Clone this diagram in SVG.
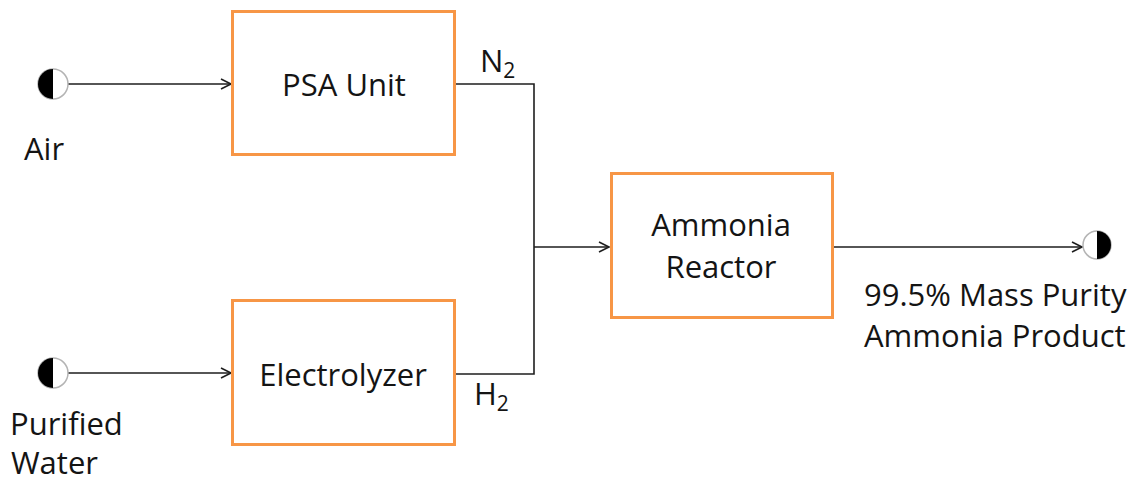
<svg xmlns="http://www.w3.org/2000/svg" width="1135" height="478" viewBox="0 0 1135 478">
<defs>
<style>
.box{fill:#fff;stroke:#F79646;stroke-width:3}
.lbl{font-family:"Open Sans",Lato,"Liberation Sans",sans-serif;font-size:31px;fill:#141414}
.sub{font-size:21px}
.ln{fill:none;stroke:#1e1e1e;stroke-width:1.6}
.ring{fill:#fff;stroke:#b4b4b4;stroke-width:1.5}
</style>
<marker id="arr" markerUnits="userSpaceOnUse" markerWidth="14" markerHeight="14" viewBox="0 0 14 14" refX="12" refY="7" orient="auto">
<path d="M2,2 L12,7 L2,12" fill="none" stroke="#1e1e1e" stroke-width="1.6"/>
</marker>
</defs>
<rect width="1135" height="478" fill="#fff"/>
<g id="connectors">
<line class="ln" x1="68" y1="84" x2="231" y2="84" marker-end="url(#arr)"/>
<line class="ln" x1="68" y1="373" x2="231" y2="373" marker-end="url(#arr)"/>
<polyline class="ln" points="455,84 534,84 534,374 455,374"/>
<line class="ln" x1="534" y1="247" x2="609" y2="247" marker-end="url(#arr)"/>
<line class="ln" x1="832" y1="247" x2="1082" y2="247" marker-end="url(#arr)"/>
</g>
<g id="air">
<circle class="ring" cx="53" cy="84" r="15"/>
<path d="M53,69 A15,15 0 0 0 53,99 Z" fill="#000"/>
<text class="lbl" x="24" y="160">Air</text>
</g>
<g id="water">
<circle class="ring" cx="53" cy="373" r="15"/>
<path d="M53,358 A15,15 0 0 0 53,388 Z" fill="#000"/>
<text class="lbl" x="10" y="435">Purified</text>
<text class="lbl" x="11" y="474">Water</text>
</g>
<g id="psa">
<rect class="box" x="232.5" y="11.5" width="222" height="143"/>
<text class="lbl" x="344" y="96" text-anchor="middle">PSA Unit</text>
</g>
<g id="electrolyzer">
<rect class="box" x="232.5" y="300.5" width="222" height="144"/>
<text class="lbl" x="343" y="386" text-anchor="middle">Electrolyzer</text>
</g>
<g id="reactor">
<rect class="box" x="611.5" y="173.5" width="221" height="144"/>
<text class="lbl" x="721" y="236" text-anchor="middle">Ammonia</text>
<text class="lbl" x="721" y="278" text-anchor="middle">Reactor</text>
</g>
<g id="product">
<circle class="ring" cx="1097" cy="245" r="14"/>
<path d="M1097,231 A14,14 0 0 1 1097,259 Z" fill="#000"/>
<text class="lbl" x="864" y="306">99.5% Mass Purity</text>
<text class="lbl" x="864" y="347">Ammonia Product</text>
</g>
<g id="labels">
<text class="lbl" x="480" y="72">N<tspan class="sub" dy="6">2</tspan></text>
<text class="lbl" x="474" y="405">H<tspan class="sub" dy="6">2</tspan></text>
</g>
</svg>
